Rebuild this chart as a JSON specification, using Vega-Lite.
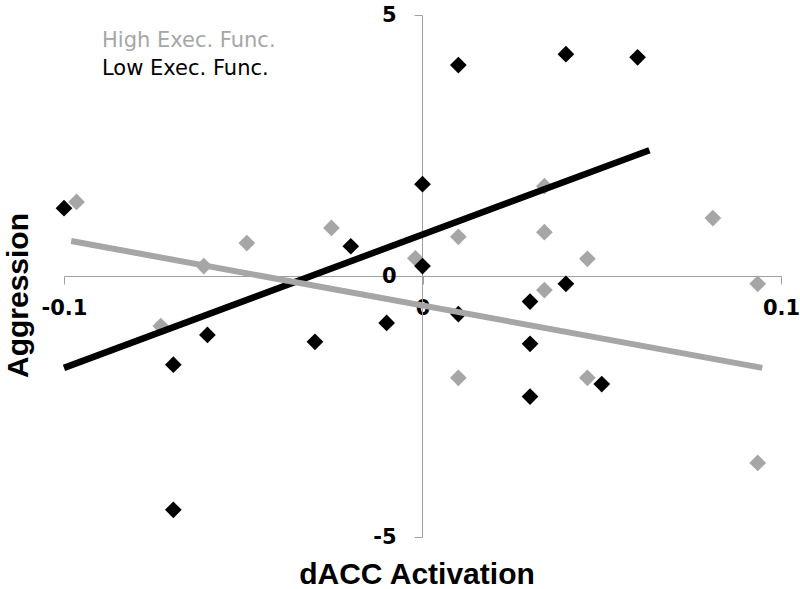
{
  "$schema": "https://vega.github.io/schema/vega-lite/v6.json",
  "width": 717,
  "height": 522,
  "autosize": {"type": "none"},
  "padding": {"left": 64, "top": 15, "right": 19, "bottom": 52},
  "background": "white",
  "config": {
    "view": {"stroke": null},
    "axis": {
      "grid": false,
      "domainColor": "#a0a0a0",
      "domainWidth": 1,
      "tickColor": "#a0a0a0",
      "tickWidth": 1,
      "tickSize": 8,
      "labelFont": "DejaVu Sans",
      "labelFontSize": 21,
      "labelFontWeight": "bold",
      "labelColor": "#000000",
      "titleFont": "Liberation Sans",
      "titleFontSize": 30,
      "titleFontWeight": "bold",
      "titleColor": "#000000"
    }
  },
  "datasets": {
    "points": [
      {"group": "High Exec. Func.", "x": -0.0965, "y": 1.42},
      {"group": "High Exec. Func.", "x": -0.073, "y": -0.96},
      {"group": "High Exec. Func.", "x": -0.061, "y": 0.19},
      {"group": "High Exec. Func.", "x": -0.049, "y": 0.63},
      {"group": "High Exec. Func.", "x": -0.0254, "y": 0.92},
      {"group": "High Exec. Func.", "x": -0.002, "y": 0.34},
      {"group": "High Exec. Func.", "x": 0.010, "y": 0.75},
      {"group": "High Exec. Func.", "x": 0.034, "y": 1.72},
      {"group": "High Exec. Func.", "x": 0.034, "y": 0.84},
      {"group": "High Exec. Func.", "x": 0.046, "y": 0.33},
      {"group": "High Exec. Func.", "x": 0.081, "y": 1.11},
      {"group": "High Exec. Func.", "x": 0.0935, "y": -0.15},
      {"group": "High Exec. Func.", "x": 0.034, "y": -0.27},
      {"group": "High Exec. Func.", "x": 0.010, "y": -1.95},
      {"group": "High Exec. Func.", "x": 0.046, "y": -1.95},
      {"group": "High Exec. Func.", "x": 0.0935, "y": -3.58},
      {"group": "Low Exec. Func.", "x": -0.100, "y": 1.30},
      {"group": "Low Exec. Func.", "x": -0.0695, "y": -1.70},
      {"group": "Low Exec. Func.", "x": -0.0695, "y": -4.48},
      {"group": "Low Exec. Func.", "x": -0.060, "y": -1.13},
      {"group": "Low Exec. Func.", "x": -0.030, "y": -1.26},
      {"group": "Low Exec. Func.", "x": -0.020, "y": 0.57},
      {"group": "Low Exec. Func.", "x": -0.010, "y": -0.90},
      {"group": "Low Exec. Func.", "x": 0.000, "y": 1.76},
      {"group": "Low Exec. Func.", "x": 0.000, "y": 0.19},
      {"group": "Low Exec. Func.", "x": 0.010, "y": 4.04},
      {"group": "Low Exec. Func.", "x": 0.010, "y": -0.73},
      {"group": "Low Exec. Func.", "x": 0.040, "y": 4.25},
      {"group": "Low Exec. Func.", "x": 0.040, "y": -0.15},
      {"group": "Low Exec. Func.", "x": 0.060, "y": 4.19},
      {"group": "Low Exec. Func.", "x": 0.030, "y": -0.49},
      {"group": "Low Exec. Func.", "x": 0.030, "y": -1.30},
      {"group": "Low Exec. Func.", "x": 0.030, "y": -2.31},
      {"group": "Low Exec. Func.", "x": 0.050, "y": -2.07}
    ],
    "lines": [
      {"group": "Low Exec. Func.", "x": -0.100, "y": -1.76},
      {"group": "Low Exec. Func.", "x": 0.0633, "y": 2.41},
      {"group": "High Exec. Func.", "x": -0.098, "y": 0.67},
      {"group": "High Exec. Func.", "x": 0.0948, "y": -1.76}
    ]
  },
  "layer": [
    {
      "data": {"name": "points"},
      "mark": {"type": "point", "shape": "diamond", "filled": true, "size": 280, "opacity": 1},
      "encoding": {
        "x": {
          "field": "x", "type": "quantitative",
          "scale": {"domain": [-0.1, 0.1], "nice": false, "zero": false},
          "axis": {
            "values": [-0.1, 0, 0.1],
            "offset": -261,
            "format": ".1~f",
            "labelExpr": "replace(datum.label, '\u2212', '-')",
            "labelPadding": 13,
            "labelFlush": false,
            "title": "dACC Activation",
            "titleX": 352.5,
            "titleY": 307,
            "titleAlign": "center",
            "titleBaseline": "alphabetic",
            "titleAnchor": "middle"
          }
        },
        "y": {
          "field": "y", "type": "quantitative",
          "scale": {"domain": [-5, 5], "nice": false, "zero": false},
          "axis": {
            "values": [-5, 0, 5],
            "offset": -358,
            "format": "d",
            "labelExpr": "replace(datum.label, '\u2212', '-')",
            "labelPadding": 18,
            "labelFlush": false,
            "title": "Aggression",
            "titleX": -395,
            "titleY": 280,
            "titleAngle": -90,
            "titleAlign": "center",
            "titleBaseline": "alphabetic"
          }
        },
        "color": {
          "field": "group", "type": "nominal",
          "scale": {"domain": ["High Exec. Func.", "Low Exec. Func."], "range": ["#a6a6a6", "#000000"]},
          "legend": {
            "orient": "none",
            "legendX": 17,
            "legendY": 15,
            "title": null,
            "padding": 0,
            "symbolSize": 0,
            "symbolStrokeWidth": 0,
            "symbolOpacity": 0,
            "labelOffset": 0,
            "labelFont": "DejaVu Sans",
            "labelFontSize": 21,
            "labelLimit": 400,
            "rowPadding": 6,
            "direction": "vertical",
            "encode": {"labels": {"update": {"fill": {"scale": "color", "field": "value"}}}}
          }
        }
      }
    },
    {
      "data": {"name": "lines"},
      "transform": [{"filter": "datum.group == 'Low Exec. Func.'"}],
      "mark": {"type": "line", "strokeWidth": 6.5, "strokeCap": "butt"},
      "encoding": {
        "x": {"field": "x", "type": "quantitative"},
        "y": {"field": "y", "type": "quantitative"},
        "color": {"field": "group", "type": "nominal"}
      }
    },
    {
      "data": {"name": "lines"},
      "transform": [{"filter": "datum.group == 'High Exec. Func.'"}],
      "mark": {"type": "line", "strokeWidth": 6, "strokeCap": "butt"},
      "encoding": {
        "x": {"field": "x", "type": "quantitative"},
        "y": {"field": "y", "type": "quantitative"},
        "color": {"field": "group", "type": "nominal"}
      }
    }
  ]
}
